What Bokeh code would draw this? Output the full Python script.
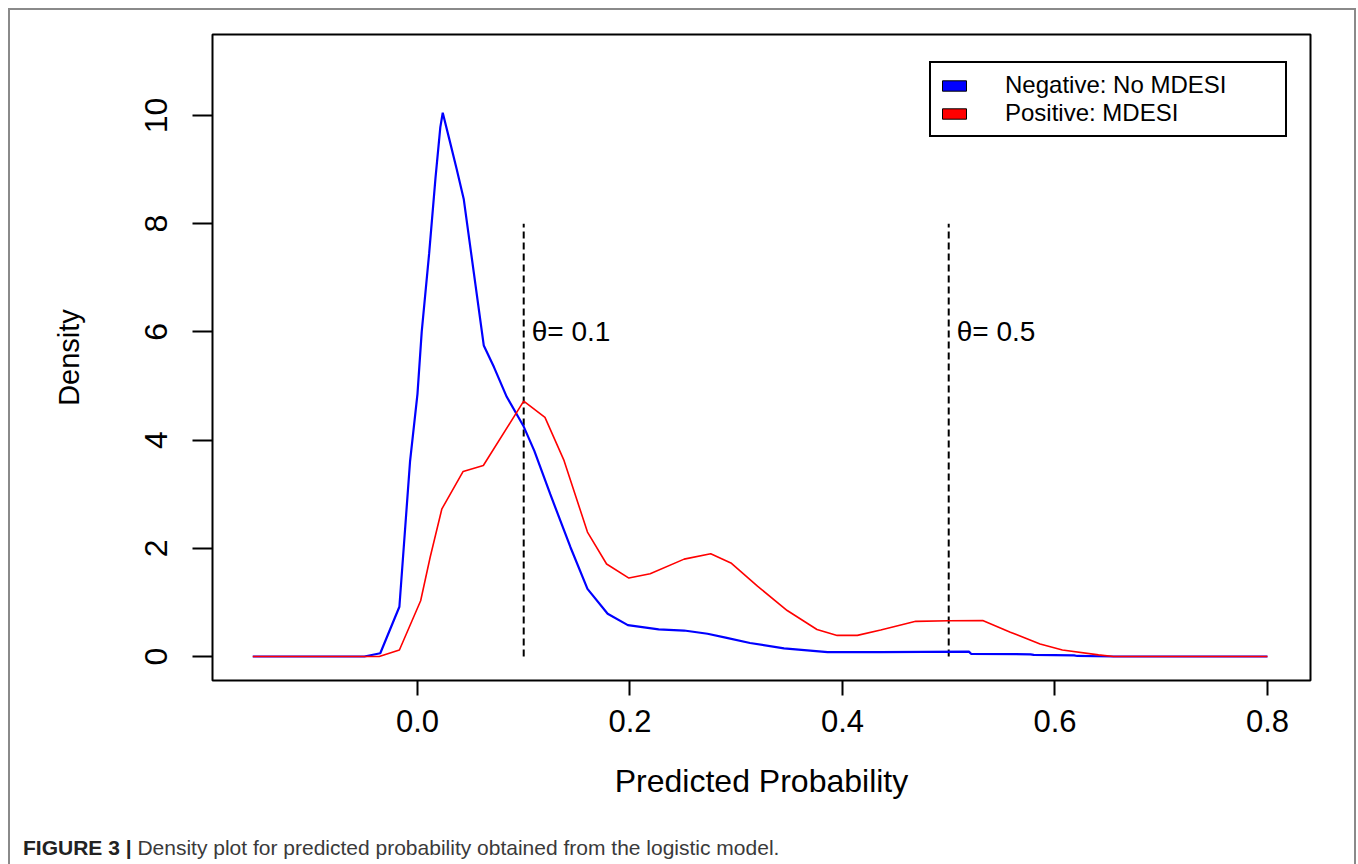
from bokeh.plotting import figure
from bokeh.models import Range1d, FixedTicker, Legend, LegendItem, Div
from bokeh.layouts import column
from bokeh.core.properties import value
from bokeh.embed import file_html
from bokeh.resources import INLINE

# ---- data ----
neg_x = [-0.155, -0.05, -0.035, -0.017, -0.007, 0.0, 0.004, 0.011, 0.017, 0.0215,
         0.0238, 0.0295, 0.037, 0.0436, 0.053, 0.0624, 0.072, 0.084, 0.1, 0.11,
         0.125, 0.144, 0.16, 0.179, 0.198, 0.227, 0.251, 0.273, 0.29, 0.313,
         0.345, 0.386, 0.436, 0.519, 0.521, 0.577, 0.58, 0.618, 0.621, 0.655, 0.8]
neg_y = [0, 0, 0.06, 0.92, 3.6, 4.85, 6.0, 7.45, 8.85, 9.78,
         10.05, 9.6, 9.0, 8.45, 7.1, 5.75, 5.35, 4.8, 4.25, 3.8,
         3.0, 2.02, 1.25, 0.79, 0.58, 0.5, 0.48, 0.42, 0.35, 0.25,
         0.15, 0.08, 0.08, 0.09, 0.05, 0.04, 0.03, 0.02, 0.01, 0.0, 0.0]

pos_x = [-0.155, -0.036, -0.017, 0.003, 0.012, 0.023, 0.043, 0.062, 0.1, 0.12,
         0.138, 0.16, 0.178, 0.199, 0.219, 0.251, 0.276, 0.295, 0.32, 0.348,
         0.376, 0.395, 0.414, 0.436, 0.469, 0.50, 0.532, 0.558, 0.586, 0.607,
         0.641, 0.655, 0.8]
pos_y = [0, 0, 0.12, 1.03, 1.84, 2.73, 3.42, 3.53, 4.72, 4.42,
         3.62, 2.3, 1.71, 1.45, 1.53, 1.8, 1.9, 1.73, 1.3, 0.85,
         0.5, 0.39, 0.39, 0.49, 0.65, 0.66, 0.665, 0.45, 0.23, 0.12,
         0.03, 0.0, 0.0]

thresholds = [0.1, 0.5]
threshold_top = [8, 8]
threshold_labels = ["\u03b8= 0.1", "\u03b8= 0.5"]
threshold_label_y = [6.0, 6.0]

x_ticks = [0.0, 0.2, 0.4, 0.6, 0.8]
y_ticks = [0, 2, 4, 6, 8, 10]
legend_labels = ["Negative: No MDESI", "Positive: MDESI"]
series_colors = ["#0000ff", "#ff0000"]
caption_bold = "FIGURE 3 |"
caption_text = "Density plot for predicted probability obtained from the logistic model."

FONT = "Liberation Sans"

X0, X1 = -0.1929, 0.8405
Y0, Y1 = -0.4436, 11.497

p = figure(width=1344, height=824, output_backend="svg", toolbar_location=None,
           x_range=Range1d(X0, X1), y_range=Range1d(Y0, Y1),
           min_border_left=202, min_border_right=44,
           min_border_top=24, min_border_bottom=154)

p.grid.visible = False
p.outline_line_color = "black"
p.outline_line_width = 2
p.outline_line_alpha = 1
p.background_fill_color = "white"
p.border_fill_color = "white"

# axes
p.xaxis.ticker = FixedTicker(ticks=x_ticks)
p.xaxis.major_label_overrides = {t: f"{t:.1f}" for t in x_ticks}
p.yaxis.ticker = FixedTicker(ticks=y_ticks)
p.yaxis.major_label_overrides = {t: str(t) for t in y_ticks}
for ax in (p.xaxis[0], p.yaxis[0]):
    ax.axis_line_color = None
    ax.minor_tick_line_color = None
    ax.major_tick_in = 0
    ax.major_tick_line_color = "black"
    ax.major_tick_line_width = 2
    ax.major_label_text_font = FONT
    ax.major_label_text_color = "black"
    ax.axis_label_text_font = FONT
    ax.axis_label_text_font_style = "normal"
    ax.axis_label_text_color = "black"

p.xaxis.major_tick_out = 15
p.xaxis.major_label_text_font_size = "31px"
p.xaxis.major_label_standoff = 14
p.xaxis.axis_label = "Predicted Probability"
p.xaxis.axis_label_text_font_size = "32px"
p.xaxis.axis_label_standoff = 28

p.yaxis.major_tick_out = 20
p.yaxis.major_label_orientation = "vertical"
p.yaxis.major_label_text_font_size = "32px"
p.yaxis.major_label_standoff = 25
p.yaxis.axis_label = "Density"
p.yaxis.axis_label_text_font_size = "29px"
p.yaxis.axis_label_standoff = 58

# threshold lines and labels
p.segment(x0=thresholds, y0=[0, 0], x1=thresholds, y1=threshold_top,
          line_color="black", line_width=2, line_dash="7 4")
p.text(x=thresholds, y=threshold_label_y, text=threshold_labels,
       x_offset=8, text_baseline="middle", text_align="left",
       text_font=value(FONT), text_font_size="28px", text_color="black")

# density curves
p.line(neg_x, neg_y, line_color=series_colors[0], line_width=2.2)
p.line(pos_x, pos_y, line_color=series_colors[1], line_width=1.6)

# legend keys (filled boxes)
nan = float("nan")
k1 = p.rect(x=[nan], y=[nan], width=0.01, height=0.1, fill_color=series_colors[0],
            line_color="black", line_width=1)
k2 = p.rect(x=[nan], y=[nan], width=0.01, height=0.1, fill_color=series_colors[1],
            line_color="black", line_width=1)
legend = Legend(items=[LegendItem(label=legend_labels[0], renderers=[k1]),
                       LegendItem(label=legend_labels[1], renderers=[k2])],
                location=(717, 543), margin=0, padding=8, spacing=-8,
                glyph_width=30, glyph_height=13, label_standoff=36,
                label_width=272, label_text_font=FONT,
                label_text_font_size="24px", label_text_color="black",
                border_line_color="black", border_line_width=2,
                border_line_alpha=1,
                background_fill_color="white", background_fill_alpha=1)
p.add_layout(legend)

# caption
cap = Div(text=(f"<span style='font-size:21px;font-family:Liberation Sans;color:#3a3a3a'>"
                f"<b style='color:#222'>{caption_bold}</b> {caption_text}</span>"),
          width=1330, height=26,
          styles={"font-family": "Liberation Sans", "font-size": "21px",
                  "color": "#3a3a3a", "padding-left": "8px",
                  "line-height": "18px", "white-space": "nowrap"})

page = column(p, cap, spacing=0,
              styles={"margin-left": "8px", "margin-top": "8px",
                      "border-left": "2px solid #8a8a8a",
                      "border-top": "2px solid #8a8a8a",
                      "border-right": "2px solid #8a8a8a",
                      "background-color": "white"})

open("out.html", "w").write(file_html(page, INLINE))
